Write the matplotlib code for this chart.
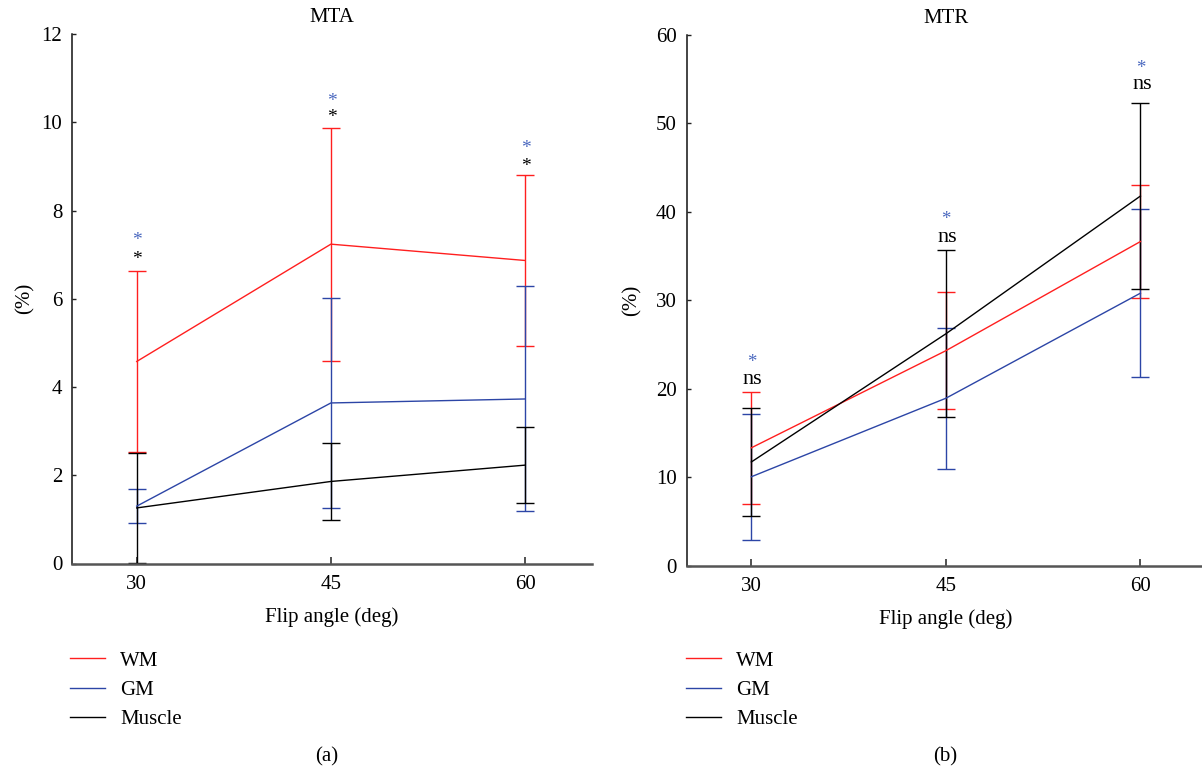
import matplotlib
matplotlib.use("Agg")
import matplotlib.pyplot as plt

# ---- data ----
angles = [30, 45, 60]
angle_ticks = [30, 45, 60]

mta_wm = [4.58, 7.24, 6.87]
mta_wm_sd = [2.06, 2.64, 1.93]
mta_gm = [1.30, 3.64, 3.73]
mta_gm_sd = [0.38, 2.39, 2.55]
mta_mu = [1.26, 1.86, 2.23]
mta_mu_sd = [1.25, 0.87, 0.86]

mtr_wm = [13.35, 24.32, 36.65]
mtr_wm_sd = [6.3, 6.64, 6.4]
mtr_gm = [10.08, 18.95, 30.82]
mtr_gm_sd = [7.14, 7.96, 9.47]
mtr_mu = [11.75, 26.23, 41.79]
mtr_mu_sd = [6.07, 9.44, 10.49]

mta_yticks = [0, 2, 4, 6, 8, 10, 12]
mtr_yticks = [0, 10, 20, 30, 40, 50, 60]

# significance marks (y positions of mark centres)
mta_star_blue_y = [7.40, 10.57, 9.49]
mta_star_black_y = [6.99, 10.19, 9.09]
mtr_star_y = [23.4, 39.55, 56.65]
mtr_ns_y = [21.3, 37.35, 54.55]

series_labels = ["WM", "GM", "Muscle"]

RED = "#ff1f1f"
BLUE = "#2c45a6"
BLACK = "#000000"
STARBLUE = "#4a68bf"

plt.rcParams["font.family"] = ["Liberation Serif", "DejaVu Serif"]
FS = 15

W, H = 1202, 769
fig = plt.figure(figsize=(W / 100, H / 100), dpi=100)

axA = fig.add_axes([72 / W, 1 - 563.5 / H, (591.7 - 72) / W, (563.5 - 34.2) / H])
axB = fig.add_axes([686.5 / W, 1 - 566 / H, (1205.3 - 686.5) / W, (566 - 34.8) / H])


def style(ax, xlim, ylim, yticks, ylabelpad):
    ax.set_xlim(*xlim)
    ax.set_ylim(*ylim)
    ax.set_xticks(angle_ticks)
    ax.set_xticklabels([str(a) for a in angle_ticks])
    ax.set_yticks(yticks)
    ax.set_yticklabels([str(v) for v in yticks])
    for s in ("top", "right"):
        ax.spines[s].set_visible(False)
    ax.spines["left"].set_linewidth(1.1)
    ax.spines["left"].set_color("#111111")
    ax.spines["bottom"].set_linewidth(1.8)
    ax.spines["bottom"].set_color("#555555")
    ax.tick_params(axis="x", direction="in", length=5, width=1.1, pad=8,
                   labelsize=FS, color="#222222")
    ax.tick_params(axis="y", direction="in", length=3, width=1.0, pad=7,
                   labelsize=FS, color="#222222")
    ax.set_xlabel("Flip angle (deg)", fontsize=FS, labelpad=9.5)
    ax.set_ylabel("(%)", fontsize=FS, labelpad=ylabelpad)


def draw(ax, data):
    handles = []
    for (y, sd, c) in data:
        eb = ax.errorbar(angles, y, yerr=sd, color=c, lw=1.0, elinewidth=1.0,
                         capsize=6.2, capthick=1.0)
        handles.append(eb.lines[0])
    return handles


hA = draw(axA, [(mta_wm, mta_wm_sd, RED), (mta_gm, mta_gm_sd, BLUE),
                (mta_mu, mta_mu_sd, BLACK)])
hB = draw(axB, [(mtr_wm, mtr_wm_sd, RED), (mtr_gm, mtr_gm_sd, BLUE),
                (mtr_mu, mtr_mu_sd, BLACK)])

style(axA, (25, 65.15), (0, 12), mta_yticks, 5)
style(axB, (25, 65), (0, 60), mtr_yticks, 10.5)

axA.set_title("MTA", fontsize=FS, pad=8.5)
axB.set_title("MTR", fontsize=FS, pad=8.5)

STAR_OFF = -6.0
NS_OFF = -4.6
for x, yb, yk in zip(angles, mta_star_blue_y, mta_star_black_y):
    axA.annotate("*", xy=(x, yb), xytext=(0.5, STAR_OFF), textcoords="offset points",
                 ha="center", va="baseline", fontsize=FS - 1, color=STARBLUE)
    axA.annotate("*", xy=(x, yk), xytext=(0.5, STAR_OFF), textcoords="offset points",
                 ha="center", va="baseline", fontsize=FS - 1, color=BLACK)
for x, ys, yn in zip(angles, mtr_star_y, mtr_ns_y):
    axB.annotate("*", xy=(x, ys), xytext=(0, STAR_OFF), textcoords="offset points",
                 ha="center", va="baseline", fontsize=FS - 1.5, color=STARBLUE)
    axB.annotate("ns", xy=(x, yn), xytext=(1, NS_OFF), textcoords="offset points",
                 ha="center", va="baseline", fontsize=FS + 1, color=BLACK)

for ax, h, x0 in ((axA, hA, 70), (axB, hB, 686)):
    ax.legend(h, series_labels, loc="upper left",
              bbox_to_anchor=(x0 / W, 1 - 651 / H), bbox_transform=fig.transFigure,
              frameon=False, fontsize=FS, borderpad=0, borderaxespad=0,
              handlelength=1.68, handletextpad=0.72, labelspacing=0.47)

fig.text(327 / W, 1 - 757 / H, "(a)", ha="center", va="center", fontsize=FS)
fig.text(945 / W, 1 - 757 / H, "(b)", ha="center", va="center", fontsize=FS)

fig.savefig("out.png", dpi=100)
